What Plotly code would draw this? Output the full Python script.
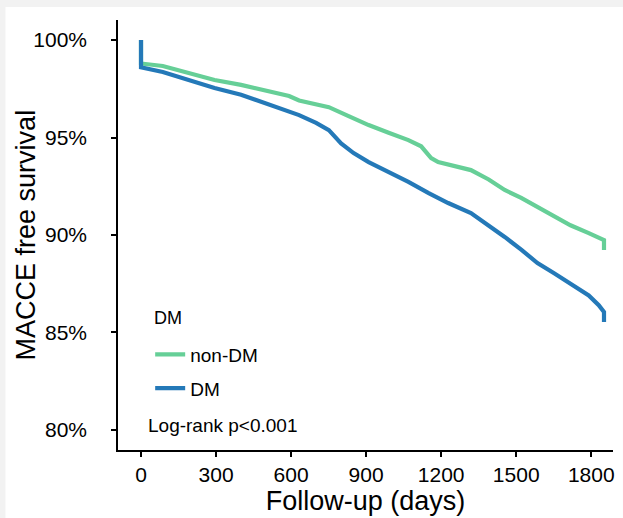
import plotly.graph_objects as go

# Kaplan-Meier estimates (days, survival %)
nondm_days = [0, 0, 87, 180, 294, 400, 485, 592, 632, 700, 751, 830, 910, 990, 1069,
              1120, 1160, 1188, 1228, 1319, 1390, 1454, 1520, 1585, 1650, 1717, 1790,
              1835, 1851, 1851]
nondm_surv = [100, 98.8, 98.67, 98.35, 97.95, 97.7, 97.44, 97.13, 96.9, 96.7, 96.56,
              96.1, 95.64, 95.25, 94.87, 94.55, 93.95, 93.74, 93.6, 93.33, 92.85, 92.31,
              91.9, 91.44, 90.95, 90.5, 90.1, 89.85, 89.74, 89.23]

dm_days = [0, 0, 87, 180, 294, 400, 485, 592, 632, 700, 751, 800, 850, 910, 990, 1069,
           1150, 1228, 1319, 1390, 1454, 1520, 1585, 1650, 1717, 1790, 1830, 1851, 1851]
dm_surv = [100, 98.6, 98.36, 98.0, 97.54, 97.2, 96.82, 96.3, 96.15, 95.75, 95.38, 94.7,
           94.2, 93.74, 93.25, 92.72, 92.15, 91.64, 91.13, 90.5, 89.9, 89.25, 88.56,
           88.05, 87.5, 86.9, 86.4, 86.05, 85.54]

x_ticks = [0, 300, 600, 900, 1200, 1500, 1800]
y_ticks = [80, 85, 90, 95, 100]
y_ticklabels = ["80%", "85%", "90%", "95%", "100%"]

GREEN = "#66cf97"
BLUE = "#2479b8"
FONT = "Liberation Sans, Arial, sans-serif"

fig = go.Figure()
fig.add_trace(go.Scatter(x=nondm_days, y=nondm_surv, mode="lines", name="non-DM",
                         legendgroup="a", line=dict(color=GREEN, width=4.2)))
fig.add_trace(go.Scatter(x=dm_days, y=dm_surv, mode="lines", name="DM",
                         legendgroup="b", line=dict(color=BLUE, width=4.2)))

fig.update_layout(
    width=623, height=518,
    margin=dict(l=118, r=8, t=20, b=68),
    paper_bgcolor="#f2f2f2",
    plot_bgcolor="white",
    font=dict(family=FONT, color="black"),
    showlegend=True,
    legend=dict(
        font=dict(size=19),
        x=0.065, y=0.266, xanchor="left", yanchor="top",
        bgcolor="rgba(0,0,0,0)",
        tracegroupgap=6,
    ),
    shapes=[dict(type="rect", xref="paper", yref="paper",
                 x0=-0.2274, x1=1.02, y0=-0.17, y1=1.0302,
                 fillcolor="white", line=dict(width=0), layer="below")],
    annotations=[
        dict(text="DM", xref="paper", yref="paper", x=0.0684, y=0.307,
             xanchor="left", yanchor="middle", showarrow=False, font=dict(size=18)),
        dict(text="Log-rank p<0.001", xref="paper", yref="paper",
             x=0.056, y=0.058, xanchor="left", yanchor="middle",
             showarrow=False, font=dict(size=19)),
        dict(text="MACCE free survival", xref="paper", yref="paper",
             x=-0.185, y=0.5, xanchor="center", yanchor="middle", textangle=-90,
             showarrow=False, font=dict(size=27)),
    ],
)

fig.update_xaxes(
    range=[-92, 1887], tickvals=x_ticks, ticktext=[str(v) for v in x_ticks],
    showline=True, linecolor="black", linewidth=1.5, showgrid=False, zeroline=False,
    ticks="outside", ticklen=5, tickwidth=1.5, tickcolor="black",
    tickfont=dict(size=21),
    title=dict(text="Follow-up (days)", font=dict(size=27), standoff=2),
)
fig.update_yaxes(
    range=[78.97, 101.03], tickvals=y_ticks, ticktext=y_ticklabels,
    showline=True, linecolor="black", linewidth=1.5, showgrid=False, zeroline=False,
    ticks="outside", ticklen=5, tickwidth=1.5, tickcolor="black",
    tickfont=dict(size=21), ticklabelstandoff=20,
)

fig.write_html("out.html")
